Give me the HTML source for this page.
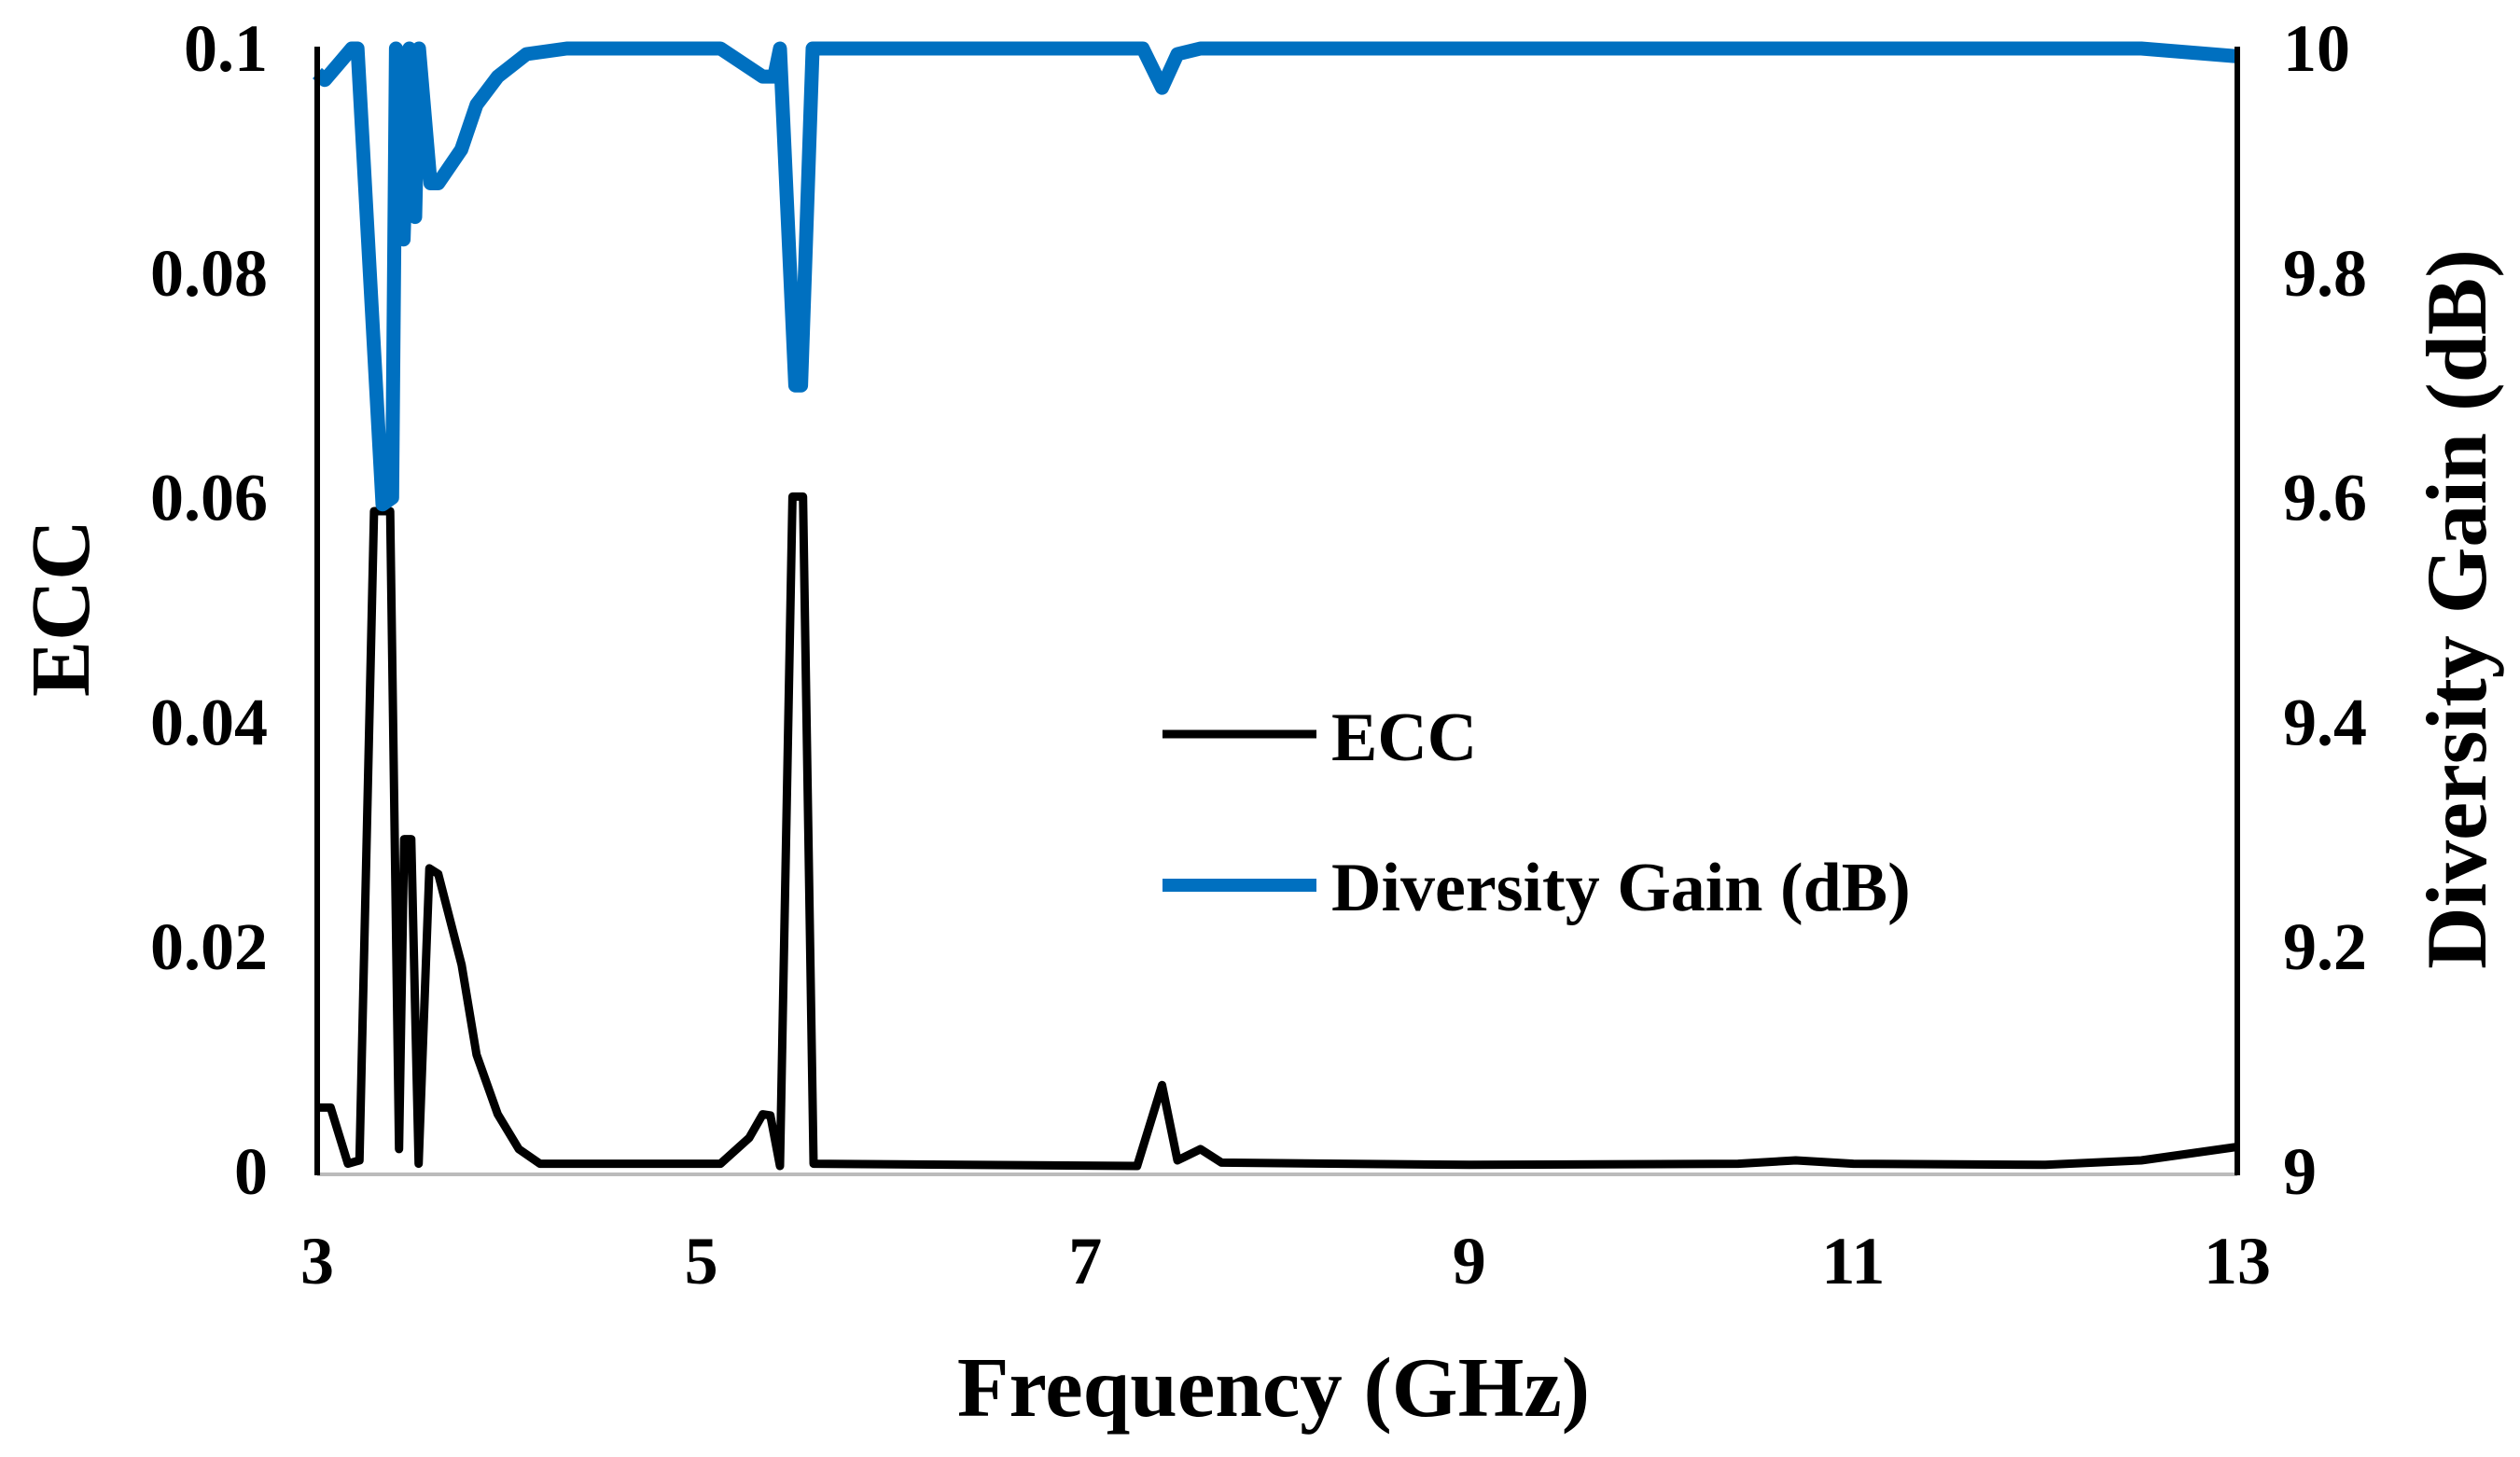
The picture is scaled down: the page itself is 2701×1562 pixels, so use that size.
<!DOCTYPE html>
<html><head><meta charset="utf-8"><style>
html,body{margin:0;padding:0;background:#fff;}
svg text{font-family:"Liberation Serif",serif;font-weight:bold;fill:#000;}
</style></head><body>
<svg id="chart" width="2701" height="1557" viewBox="0 0 2701 1557" xmlns="http://www.w3.org/2000/svg">
<g id="series"></g>
<g id="axes"></g>
<g id="legend">
  <line x1="1246" y1="787" x2="1411" y2="787" stroke="#000" stroke-width="9"/>
  <text x="1427" y="815" font-size="74">ECC</text>
  <line x1="1246" y1="949" x2="1411" y2="949" stroke="#0070C0" stroke-width="14"/>
  <text x="1427" y="976" font-size="74">Diversity Gain (dB)</text>
</g>
<text x="1365" y="1518" font-size="91" text-anchor="middle">Frequency (GHz)</text>
<text transform="translate(95,652) rotate(-90)" font-size="90" text-anchor="middle">ECC</text>
<text transform="translate(2664,653) rotate(-90)" font-size="92" text-anchor="middle">Diversity Gain (dB)</text>
</svg>
<script>
const freqTicks = [3,5,7,9,11,13];
const eccTicks = [0,0.02,0.04,0.06,0.08,0.1];
const eccTickLabels = ["0","0.02","0.04","0.06","0.08","0.1"];
const dgTicks = [9,9.2,9.4,9.6,9.8,10];
const dgTickLabels = ["9","9.2","9.4","9.6","9.8","10"];

const eccFreq = [3.0,3.07,3.16,3.22,3.296,3.38,3.426,3.453,3.49,3.528,3.584,3.63,3.752,3.83,3.94,4.05,4.16,5.1,5.25,5.32,5.36,5.41,5.475,5.53,5.585,7.27,7.40,7.48,7.6,7.71,9.0,10.4,10.7,11.0,12.0,12.5,13.0];
const eccVal  = [0.0057,0.0057,0.0007,0.001,0.0588,0.0588,0.002,0.0296,0.0296,0.0007,0.027,0.0265,0.0184,0.0104,0.0051,0.002,0.0007,0.0007,0.003,0.0051,0.005,0.0005,0.0601,0.0601,0.0007,0.0005,0.0077,0.001,0.002,0.0008,0.0006,0.0007,0.001,0.0007,0.0006,0.001,0.0022];

const dgFreq = [3.0,3.04,3.13,3.18,3.21,3.34,3.39,3.41,3.45,3.48,3.51,3.53,3.59,3.63,3.75,3.83,3.94,4.09,4.3,5.1,5.32,5.38,5.41,5.49,5.52,5.58,7.3,7.40,7.48,7.6,12.5,13.0];
const dgVal  = [9.978,9.972,9.99,10,10,9.594,9.6,10,9.83,10,9.85,10,9.88,9.88,9.91,9.95,9.975,9.995,10,10,9.975,9.975,10,9.70,9.70,10,10,9.965,9.995,10,10,9.993];

const X0=340, X1=2398, Y0=1256, Y1=52;
function xs(f){return X0+(f-3)/(13-3)*(X1-X0);}
function yl(v){return Y0-(v/0.1)*(Y0-Y1);}
function yr(v){return Y0-((v-9)/1)*(Y0-Y1);}
const NS="http://www.w3.org/2000/svg";
function mk(tag,attrs,parent){const e=document.createElementNS(NS,tag);for(const k in attrs)e.setAttribute(k,attrs[k]);parent.appendChild(e);return e;}

const series=document.getElementById('series');
const axes=document.getElementById('axes');

let d=eccFreq.map((f,i)=>(i?'L':'M')+xs(f).toFixed(1)+','+yl(eccVal[i]).toFixed(1)).join(' ');
const ecc=mk('path',{d:d,fill:'none',stroke:'#000','stroke-width':9,'stroke-linejoin':'round'},series);



d=dgFreq.map((f,i)=>(i?'L':'M')+xs(f).toFixed(1)+','+yr(dgVal[i]).toFixed(1)).join(' ');
const dg=mk('path',{d:d,fill:'none',stroke:'#0070C0','stroke-width':15,'stroke-linejoin':'round'},series);



const bottom=mk('line',{x1:X0,y1:Y0+3,x2:X1,y2:Y0+3,stroke:'#bbb','stroke-width':4},axes);


const left=mk('line',{x1:X0,y1:Y1-2,x2:X0,y2:Y0+4,stroke:'#000','stroke-width':6},axes);


const right=mk('line',{x1:X1,y1:Y1-2,x2:X1,y2:Y0+4,stroke:'#000','stroke-width':6},axes);



freqTicks.forEach(f=>{
  const t=mk('text',{x:xs(f),y:1376,'font-size':72,'text-anchor':'middle'},axes);
  t.textContent=String(f);
  
  
});
eccTicks.forEach((v,i)=>{
  const t=mk('text',{x:287,y:yl(v)+24,'font-size':72,'text-anchor':'end'},axes);
  t.textContent=eccTickLabels[i];
  
  
});
dgTicks.forEach((v,i)=>{
  const t=mk('text',{x:2447,y:yr(v)+24,'font-size':72,'text-anchor':'start'},axes);
  t.textContent=dgTickLabels[i];
  
  
});
</script>
</body></html>
